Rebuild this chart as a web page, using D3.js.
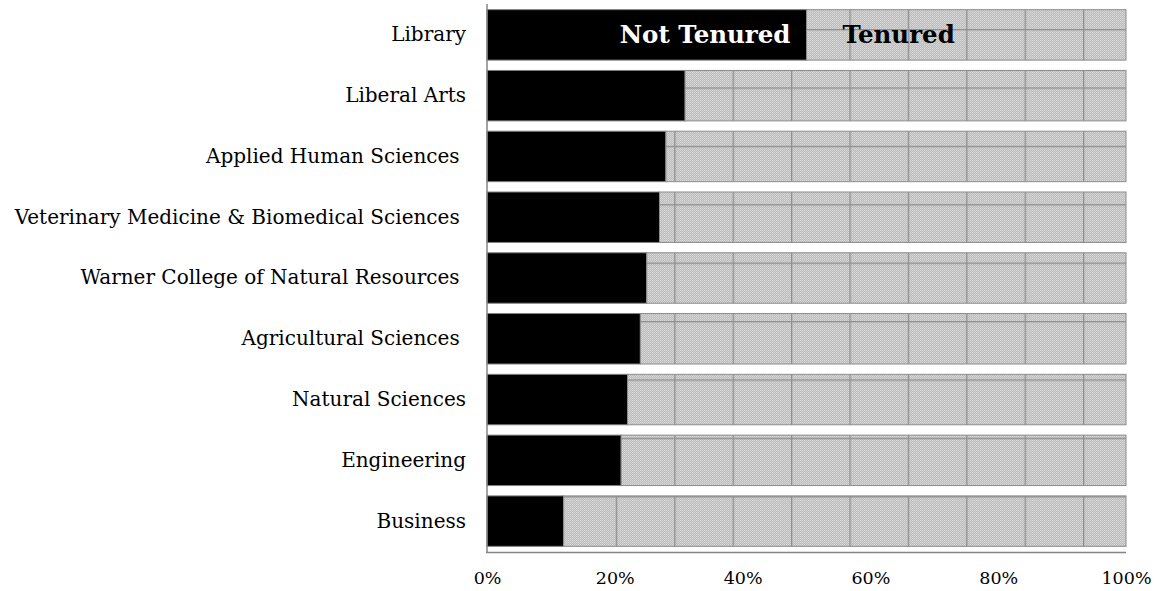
<!DOCTYPE html>
<html><head><meta charset="utf-8">
<script src="https://cdn.jsdelivr.net/npm/d3@7"></script>
<style>
html,body{margin:0;padding:0;background:#fff;}
svg{display:block;}
.lab text{white-space:pre;}
</style></head>
<body><svg id="c" width="1156" height="591"></svg>
<script>
const categories = ["Library","Liberal Arts","Applied Human Sciences ","Veterinary Medicine & Biomedical Sciences ","Warner College of Natural Resources ","Agricultural Sciences ","Natural Sciences","Engineering","Business"];
const notTenured = [50,31,28,27,25,24,22,21,12];
const tenured = [50,69,72,73,75,76,78,79,88];
const seriesNames = ["Not Tenured","Tenured"];
const tickValues = [0,20,40,60,80,100];

const svg = d3.select("#c");
const FONT = "'DejaVu Serif', serif";
const x = d3.scaleLinear().domain([0,100]).range([487,1126]);
const y = d3.scaleBand().domain(categories).range([4.5,551.5]).paddingInner(0.17).paddingOuter(0.085);

const defs = svg.append("defs");
const dots = defs.append("pattern").attr("id","dots").attr("patternUnits","userSpaceOnUse")
  .attr("width",2).attr("height",2);
dots.append("rect").attr("width",2).attr("height",2).attr("fill","#bcbcbc");
dots.append("rect").attr("x",0).attr("y",0).attr("width",1).attr("height",1).attr("fill","#d9d9d9");
dots.append("rect").attr("x",1).attr("y",1).attr("width",1).attr("height",1).attr("fill","#d0d0d0");
const grid = defs.append("pattern").attr("id","grid").attr("patternUnits","userSpaceOnUse")
  .attr("x",499).attr("y",29).attr("width",58.4).attr("height",58.4);
grid.append("rect").attr("x",0).attr("y",0).attr("width",1.3).attr("height",58.4).attr("fill","#8f8f8f");
grid.append("rect").attr("x",0).attr("y",0).attr("width",58.4).attr("height",1.3).attr("fill","#8f8f8f");

const rows = categories.map((c,i)=>({cat:c,"Not Tenured":notTenured[i],"Tenured":tenured[i]}));
const stacked = d3.stack().keys(seriesNames)(rows);

const g = svg.append("g");
stacked.forEach((s,si)=>{
  const sel = g.append("g").selectAll("rect").data(s).join("rect")
    .attr("x",d=>x(d[0])).attr("y",d=>y(d.data.cat))
    .attr("width",d=>x(d[1])-x(d[0])).attr("height",y.bandwidth());
  if(si===0){
    sel.attr("fill","#000").attr("stroke","#7f7f7f").attr("stroke-width",1);
  } else {
    sel.attr("fill","url(#dots)");
    g.append("g").selectAll("rect").data(s).join("rect")
      .attr("x",d=>x(d[0])).attr("y",d=>y(d.data.cat))
      .attr("width",d=>x(d[1])-x(d[0])).attr("height",y.bandwidth())
      .attr("fill","url(#grid)").attr("stroke","#8c8c8c").attr("stroke-width",1);
  }
});

// series labels inside Library bar
const lib = categories[0];
svg.append("text").attr("x",x(notTenured[0])-16).attr("y",y(lib)+y.bandwidth()/2)
  .attr("dy","0.35em").attr("text-anchor","end").attr("font-family",FONT)
  .attr("font-weight","bold").attr("font-size",24.5).attr("fill","#fff").text(seriesNames[0]);
svg.append("text").attr("x",x(notTenured[0])+36).attr("y",y(lib)+y.bandwidth()/2)
  .attr("dy","0.35em").attr("text-anchor","start").attr("font-family",FONT)
  .attr("font-weight","bold").attr("font-size",24.5).attr("fill","#000").text(seriesNames[1]);

// axes
const yAxis = svg.append("g").attr("class","lab").attr("transform","translate(487,0)")
  .call(d3.axisLeft(y).tickSize(0).tickPadding(21));
yAxis.select(".domain").remove();
yAxis.selectAll("text").attr("font-family",FONT).attr("font-size",20).attr("fill","#000");

const xAxis = svg.append("g").attr("transform","translate(0,552)")
  .call(d3.axisBottom(x).tickValues(tickValues).tickFormat(d=>d+"%").tickSize(0).tickPadding(20));
xAxis.select(".domain").remove();
xAxis.selectAll("text").attr("font-family",FONT).attr("font-size",17.5).attr("fill","#000");

svg.append("line").attr("x1",487).attr("x2",487).attr("y1",4).attr("y2",553)
  .attr("stroke","#858585").attr("stroke-width",1.5);
svg.append("line").attr("x1",486).attr("x2",1126).attr("y1",552.5).attr("y2",552.5)
  .attr("stroke","#858585").attr("stroke-width",1.5);
</script></body></html>
